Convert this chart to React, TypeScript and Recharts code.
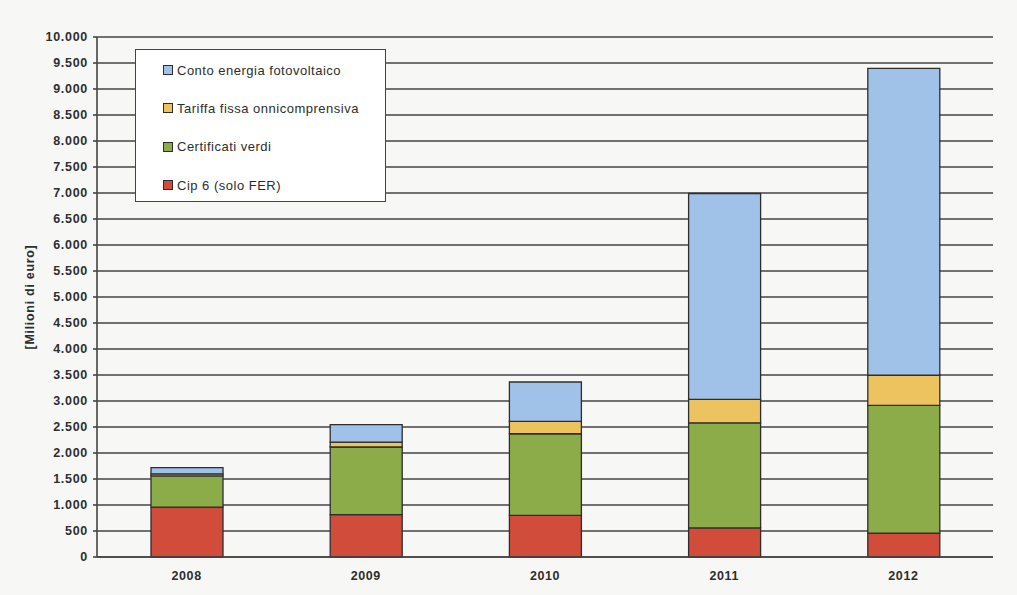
import React from 'react';
import { BarChart, Bar, XAxis, YAxis, CartesianGrid } from 'recharts';

const years = ['2008', '2009', '2010', '2011', '2012'];

// Milioni di euro per anno
const cip6 = [960, 815, 800, 560, 460];
const certificatiVerdi = [600, 1300, 1570, 2020, 2455];
const tariffaFissa = [40, 95, 240, 450, 580];
const contoEnergia = [120, 335, 755, 3960, 5900];

const yTicks = [0, 500, 1000, 1500, 2000, 2500, 3000, 3500, 4000, 4500, 5000, 5500, 6000, 6500, 7000, 7500, 8000, 8500, 9000, 9500, 10000];

const data = years.map((year, i) => ({
  year,
  cip6: cip6[i],
  certificati: certificatiVerdi[i],
  tariffa: tariffaFissa[i],
  conto: contoEnergia[i],
}));

// bottom-to-top stacking order
const series = [
  { key: 'cip6', name: 'Cip 6 (solo FER)', color: '#d24c3b' },
  { key: 'certificati', name: 'Certificati verdi', color: '#8cac4a' },
  { key: 'tariffa', name: 'Tariffa fissa onnicomprensiva', color: '#ecc35e' },
  { key: 'conto', name: 'Conto energia fotovoltaico', color: '#a0c1e8' },
];

const FONT = '"Liberation Sans", Arial, sans-serif';
const INK = '#2e2e2e';
const GRID = '#444444';

const formatThousands = (v: number) => String(v).replace(/\B(?=(\d{3})+(?!\d))/g, '.');

// legend drawn on top of the plot, top entry = top of the stack
function LegendBox() {
  const items = [...series].reverse();
  return (
    <div
      style={{
        position: 'absolute',
        left: 135,
        top: 49,
        width: 251,
        height: 153,
        border: `1.5px solid ${GRID}`,
        background: '#ffffff',
        boxSizing: 'border-box',
        padding: '1px 0 0 27px',
        fontFamily: FONT,
        fontSize: 13,
        letterSpacing: 0.5,
        color: INK,
      }}
    >
      {items.map((s) => (
        <div key={s.key} style={{ display: 'flex', alignItems: 'center', height: 38.3 }}>
          <span
            style={{
              width: 8,
              height: 8,
              background: s.color,
              border: `1.3px solid ${INK}`,
              marginRight: 4,
              display: 'inline-block',
            }}
          />
          <span>{s.name}</span>
        </div>
      ))}
    </div>
  );
}

function YLabel({ viewBox }: any) {
  const cy = viewBox ? viewBox.y + viewBox.height / 2 : 300;
  return (
    <text
      x={30}
      y={cy}
      transform={`rotate(-90, 30, ${cy})`}
      textAnchor="middle"
      dominantBaseline="central"
      fontFamily={FONT}
      fontSize={12.5}
      fontWeight="bold"
      letterSpacing={0.7}
      fill={INK}
    >
      [Milioni di euro]
    </text>
  );
}

export default function App() {
  return (
    <div style={{ position: 'absolute', left: 0, top: 0, width: 1017, height: 595, background: '#f7f7f5' }}>
      <BarChart
        width={1017}
        height={595}
        data={data}
        margin={{ top: 37, right: 24, bottom: 8, left: 0 }}
        barSize={72}
      >
        <CartesianGrid vertical={false} stroke={GRID} strokeWidth={1.6} />
        <XAxis
          dataKey="year"
          height={30}
          axisLine={{ stroke: GRID, strokeWidth: 1.6 }}
          tickLine={false}
          tickSize={6}
          tickMargin={8}
          tick={{ fontFamily: FONT, fontSize: 12.5, fontWeight: 'bold', fill: INK, letterSpacing: 0.6 }}
        />
        <YAxis
          width={97}
          domain={[0, 10000]}
          ticks={yTicks}
          interval={0}
          tickFormatter={formatThousands}
          axisLine={{ stroke: GRID, strokeWidth: 1.6 }}
          tickLine={{ stroke: GRID, strokeWidth: 1.6 }}
          tickSize={4}
          tickMargin={5}
          tick={{ fontFamily: FONT, fontSize: 12.5, fontWeight: 'bold', fill: INK, letterSpacing: 0.7 }}
          label={<YLabel />}
        />
        <YAxis
          yAxisId="right"
          orientation="right"
          width={0}
          domain={[0, 10000]}
          tick={false}
          tickLine={false}
          axisLine={{ stroke: GRID, strokeWidth: 1.6 }}
        />
        {series.map((s) => (
          <Bar
            key={s.key}
            dataKey={s.key}
            name={s.name}
            stackId="tot"
            fill={s.color}
            stroke={INK}
            strokeWidth={1.3}
            isAnimationActive={false}
          />
        ))}
      </BarChart>
      <LegendBox />
    </div>
  );
}
